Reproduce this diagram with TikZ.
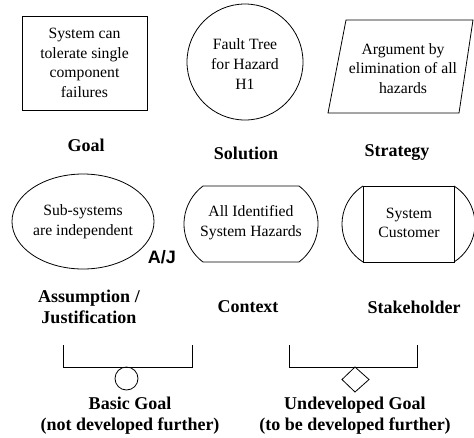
\documentclass[tikz,border=0pt]{standalone}
\usepackage{fontspec}
\setmainfont{Liberation Serif}
\newfontfamily\labelsans{Liberation Sans}
\usetikzlibrary{shapes.geometric}
\begin{document}
\begin{tikzpicture}[x=1pt,y=1pt,
  every path/.style={line width=0.8pt},
  body/.style={align=center,inner sep=0pt,font=\fontsize{15.7}{19.7}\selectfont},
  caption/.style={align=center,inner sep=0pt,font=\fontsize{18}{21}\selectfont\bfseries},
  shapeline/.style={draw,line width=0.8pt}]
\useasboundingbox (0,0) rectangle (474,-437);

% Goal
\node[shapeline,rectangle,minimum width=125pt,minimum height=94pt,inner sep=0pt] (goal) at (84.5,-63) {};
\node[body] (goaltext) at (84.5,-63) {System can\\tolerate single\\component\\failures};
\node[caption] (goalcap) at (86,-145) {Goal};

% Solution
\node[shapeline,circle,minimum size=116pt,inner sep=0pt] (sol) at (245,-62) {};
\node[body] (soltext) at (245,-64) {Fault Tree\\for Hazard\\H1};
\node[caption] (solcap) at (246,-153) {Solution};

% Strategy
\draw (346,-20) -- (473,-20) -- (459,-113) -- (328,-113) -- cycle;
\node[body] (strattext) at (403,-68.5) {Argument by\\elimination of all\\hazards};
\node[caption] (stratcap) at (397,-153) {Strategy};

% Assumption / Justification
\node[shapeline,ellipse,minimum width=142pt,minimum height=95pt,inner sep=0pt] (assum) at (83,-221.5) {};
\node[body] (assumtext) at (83,-222) {Sub-systems\\are independent};
\node[inner sep=0pt,font=\labelsans\fontsize{18}{20}\selectfont\bfseries] (aj) at (162,-257) {A/J};
\node[caption] (assumcap) at (89,-307) {Assumption /\\Justification};

% Context
\draw (203,-186) -- (299,-186)
  arc[start angle=53.13,end angle=-53.13,radius=47.5pt]
  -- (203,-262)
  arc[start angle=233.13,end angle=126.87,radius=47.5pt] -- cycle;
\node[body] (ctxtext) at (251,-223) {All Identified\\System Hazards};
\node[caption] (ctxcap) at (248,-307) {Context};

% Stakeholder
\draw (363,-186) rectangle (454,-262);
\draw (363,-186) arc[start angle=122.2,end angle=237.8,radius=44.9pt];
\draw (454,-186) arc[start angle=57.8,end angle=-57.8,radius=44.9pt];
\node[body] (stktext) at (409,-223) {System\\Customer};
\node[caption] (stkcap) at (414,-307) {Stakeholder};

% Basic goal
\draw (63,-345) -- (63,-367) -- (192,-367) -- (192,-345);
\node[shapeline,circle,minimum size=23pt,inner sep=0pt] (basic) at (126.5,-378.5) {};
\node[caption] (basiccap) at (130,-416) {Basic Goal\\(not developed further)};

% Undeveloped goal
\draw (289,-345) -- (289,-367) -- (417,-367) -- (417,-345);
\draw (355,-367) -- (369,-379.5) -- (355,-392) -- (342,-379.5) -- cycle;
\node[caption] (undevcap) at (355,-416) {Undeveloped Goal\\(to be developed further)};
\end{tikzpicture}
\end{document}
